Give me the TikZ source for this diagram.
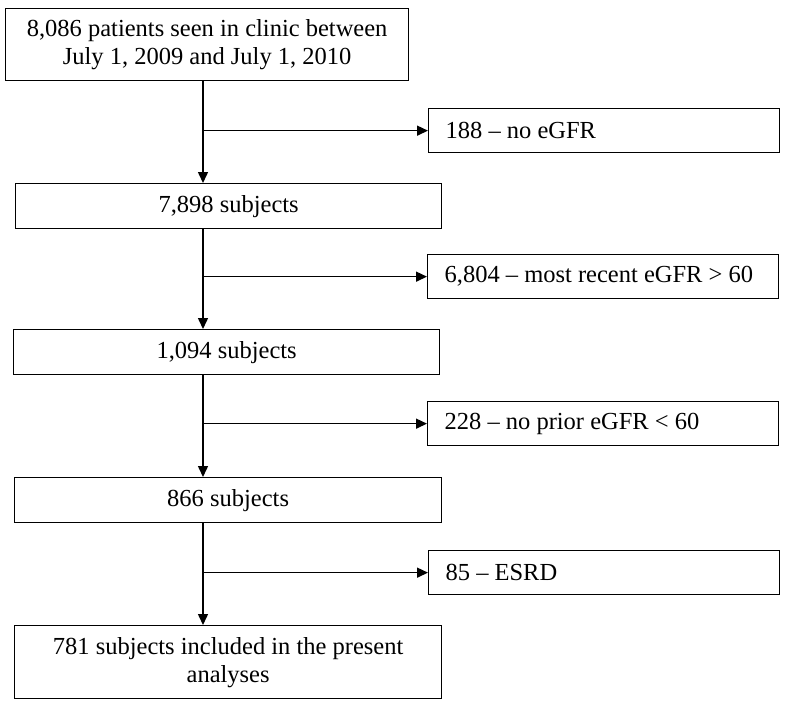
\documentclass[tikz,border=0pt]{standalone}
\usepackage{fontspec}
\setmainfont{Liberation Serif}
\usetikzlibrary{arrows.meta}
\newcommand{\sidetext}[1]{\makebox[317pt][l]{#1}}
\begin{document}
\begin{tikzpicture}[x=1pt,y=-1pt,
  box/.style={draw, line width=1.3pt, inner sep=0pt, anchor=north west,
    font=\fontsize{24.5}{28}\selectfont, align=center},
  side/.style={box, inner xsep=17pt, minimum height=44pt},
  arr/.style={line width=1.5pt, -{Triangle[length=11pt,width=10pt]}}]
\useasboundingbox (0,0) rectangle (785,704);
\coordinate (trunk) at (203,0);
\node[box, minimum width=403pt, minimum height=72pt] (b1) at (5,8)
  {8,086 patients seen in clinic between\\July 1, 2009 and July 1, 2010};
\node[box, minimum width=426pt, minimum height=45pt] (b2) at (15,183) {7,898 subjects};
\node[box, minimum width=426pt, minimum height=45pt] (b3) at (13,329) {1,094 subjects};
\node[box, minimum width=427pt, minimum height=45pt] (b4) at (14,477) {866 subjects};
\node[box, minimum width=427pt, minimum height=73pt] (b5) at (14,625)
  {781 subjects included in the present\\analyses};
\node[side] (r1) at (428,108) {\sidetext{188 -- no eGFR}};
\node[side] (r2) at (427,254) {\sidetext{6,804 -- most recent eGFR > 60}};
\node[side] (r3) at (427,401) {\sidetext{228 -- no prior eGFR < 60}};
\node[side] (r4) at (428,550) {\sidetext{85 -- ESRD}};
\draw[arr] (b1.south -| trunk) -- (b2.north -| trunk);
\draw[arr] (b2.south -| trunk) -- (b3.north -| trunk);
\draw[arr] (b3.south -| trunk) -- (b4.north -| trunk);
\draw[arr] (b4.south -| trunk) -- (b5.north -| trunk);
\draw[arr] (trunk |- r1.west) -- (r1.west);
\draw[arr] (trunk |- r2.west) -- (r2.west);
\draw[arr] (trunk |- r3.west) -- (r3.west);
\draw[arr] (trunk |- r4.west) -- (r4.west);
\end{tikzpicture}
\end{document}
